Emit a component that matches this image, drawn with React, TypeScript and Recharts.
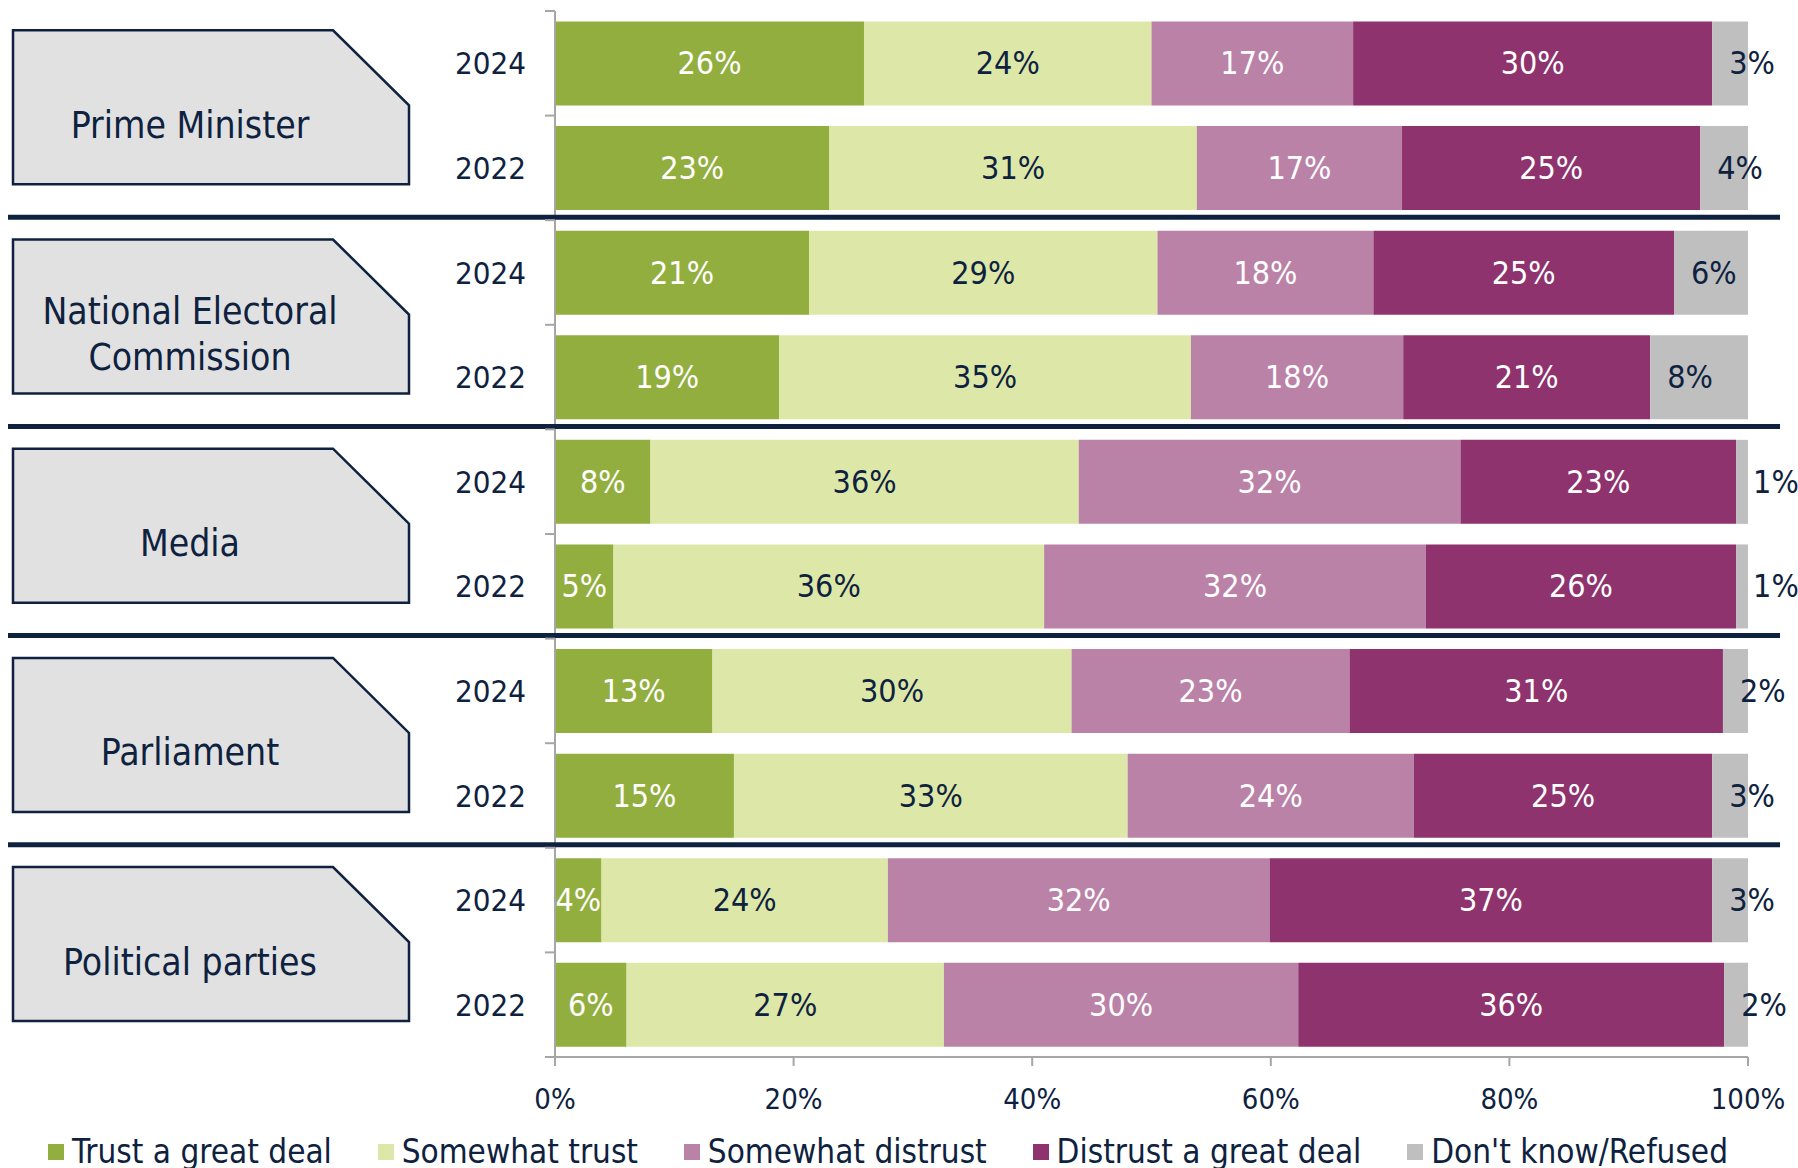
import {Bar, BarChart, LabelList, Legend, XAxis, YAxis} from "recharts";

const groups = [["Prime Minister"], ["National Electoral", "Commission"], ["Media"], ["Parliament"], ["Political parties"]];
const years = ["2024", "2022"];

// one value per row: PM 2024, PM 2022, NEC 2024, NEC 2022, Media 2024, ...
const trustGreat = [25.9, 23.0, 21.3, 18.8, 8.0, 4.9, 13.2, 15.0, 3.9, 6.0];
const somewhatTrust = [24.1, 30.8, 29.2, 34.5, 35.9, 36.1, 30.1, 33.0, 24.0, 26.6];
const somewhatDistrust = [16.9, 17.2, 18.1, 17.8, 32.0, 32.0, 23.3, 24.0, 32.0, 29.7];
const distrustGreat = [30.1, 25.0, 25.2, 20.7, 23.1, 26.0, 31.3, 25.0, 37.1, 35.7];
const dontKnow = [3.0, 4.0, 6.2, 8.2, 1.0, 1.0, 2.1, 3.0, 3.0, 2.0];

const seriesKeys = ["trustGreat", "somewhatTrust", "somewhatDistrust", "distrustGreat", "dontKnow"];
const seriesNames = ["Trust a great deal", "Somewhat trust", "Somewhat distrust", "Distrust a great deal", "Don't know/Refused"];
const seriesColors = ["#92AE3E", "#DDE8A8", "#BB82A8", "#8E336D", "#BFBFBF"];
const labelColors = ["#FFFFFF", "#0E2240", "#FFFFFF", "#FFFFFF", "#0E2240"];
const xTicks = [0, 20, 40, 60, 80, 100];

const NAVY = "#0E2240";
const AXIS_GRAY = "#A6A6A6";
const FONT = "'DejaVu Sans Condensed', 'DejaVu Sans', sans-serif";

const W = 1798, H = 1168;
const PLOT_LEFT = 555, PLOT_TOP = 11, PLOT_BOTTOM = 1057;

const rows = groups.flatMap((_, gi) => years.map((yr, yi) => {
    const i = gi * years.length + yi;
    return {
        id: `${gi}-${yr}`,
        group: gi,
        yearIndex: yi,
        year: yr,
        trustGreat: trustGreat[i],
        somewhatTrust: somewhatTrust[i],
        somewhatDistrust: somewhatDistrust[i],
        distrustGreat: distrustGreat[i],
        dontKnow: dontKnow[i],
    };
}));

const BAND = (PLOT_BOTTOM - PLOT_TOP) / rows.length;

function YearTick(props: any) {
    const {y, payload} = props;
    const row = rows.find(r => r.id === payload.value);
    if (!row) return null;
    const isLast = row.id === rows[rows.length - 1].id;
    const top = y - 33;
    const lines = groups[row.group];
    return (
        <g>
            <text x={526} y={y} textAnchor="end" dominantBaseline="central" fontSize={31} fill={NAVY}>{row.year}</text>
            <line x1={545} x2={PLOT_LEFT} y1={y - BAND / 2} y2={y - BAND / 2} stroke={AXIS_GRAY} strokeWidth={2}/>
            {isLast && <line x1={545} x2={PLOT_LEFT} y1={y + BAND / 2} y2={y + BAND / 2} stroke={AXIS_GRAY} strokeWidth={2}/>}
            {row.yearIndex === 0 && (
                <g>
                    <path d={`M13,${top} L333,${top} L409,${top + 75} L409,${top + 154} L13,${top + 154} Z`}
                          fill="#E1E1E1" stroke={NAVY} strokeWidth={2.5}/>
                    {lines.map((t, li) => (
                        <text key={t} x={190} y={top + 95 + (li - (lines.length - 1) / 2) * 46}
                              textAnchor="middle" dominantBaseline="central" fontSize={37} fill={NAVY}>{t}</text>
                    ))}
                </g>
            )}
            {row.yearIndex === years.length - 1 && row.group < groups.length - 1 && (
                <line x1={8} x2={1780} y1={y + BAND / 2 - 3} y2={y + BAND / 2 - 3} stroke={NAVY} strokeWidth={5}/>
            )}
        </g>
    );
}

function makeLabel(si: number) {
    return (props: any) => {
        const {x, y, width, height, value} = props;
        if (value == null) return null;
        const isLastSeries = si === seriesKeys.length - 1;
        return (
            <text x={isLastSeries ? x + 17 : x + width / 2} y={y + height / 2}
                  textAnchor={isLastSeries ? "start" : "middle"} dominantBaseline="central"
                  fontSize={32} fill={labelColors[si]}>
                {Math.round(value)}%
            </text>
        );
    };
}

function LegendContent() {
    return (
        <div style={{display: "flex", justifyContent: "space-between", width: 1680, marginLeft: 48}}>
            {seriesNames.map((n, i) => (
                <div key={n} style={{display: "flex", alignItems: "center"}}>
                    <span style={{display: "inline-block", width: 16, height: 16, background: seriesColors[i], marginRight: 8}}/>
                    <span style={{fontSize: 33, color: NAVY, lineHeight: "40px", whiteSpace: "nowrap"}}>{n}</span>
                </div>
            ))}
        </div>
    );
}

export default function App() {
    return (
        <div style={{position: "absolute", left: 0, top: 0, width: W, height: H, background: "#fff", fontFamily: FONT}}>
            <BarChart width={W} height={H} data={rows} layout="vertical" barCategoryGap="10%"
                      margin={{top: PLOT_TOP, right: 50, bottom: 51, left: 0}}>
                <XAxis type="number" domain={[0, 100]} ticks={xTicks} allowDataOverflow height={60}
                       tickFormatter={(v: number) => `${v}%`}
                       axisLine={{stroke: AXIS_GRAY, strokeWidth: 2}}
                       tickLine={{stroke: AXIS_GRAY, strokeWidth: 2}} tickSize={9} tickMargin={22}
                       tick={{fill: NAVY, fontSize: 29}}/>
                <YAxis type="category" dataKey="id" width={PLOT_LEFT} interval={0}
                       axisLine={{stroke: AXIS_GRAY, strokeWidth: 2}} tickLine={false}
                       tick={<YearTick/>}/>
                {seriesKeys.map((k, si) => (
                    <Bar key={k} dataKey={k} name={seriesNames[si]} stackId="a" fill={seriesColors[si]}
                         isAnimationActive={false}>
                        <LabelList dataKey={k} content={makeLabel(si)}/>
                    </Bar>
                ))}
                <Legend layout="horizontal" verticalAlign="middle" align="center" content={<LegendContent/>}
                        wrapperStyle={{top: 1132, left: 0, width: W}}/>
            </BarChart>
        </div>
    );
}
